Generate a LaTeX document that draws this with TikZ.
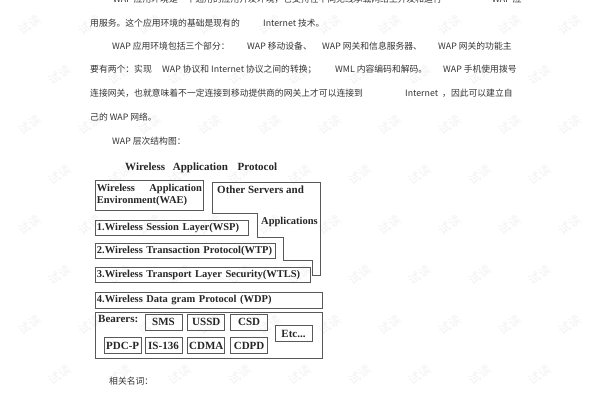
\documentclass[tikz,border=0pt]{standalone}
\usepackage{fontspec}
\setmainfont{Liberation Serif}
\newfontfamily\cjk{Noto Sans CJK SC}
\usetikzlibrary{positioning}

\begin{document}
\begin{tikzpicture}[
    x=1pt, y=-1pt,
    para/.style = {anchor=west, inner sep=0pt, text=black!80,
                   font=\cjk\fontsize{8.8}{10}\selectfont},
    wmark/.style = {rotate=35, text=black!5, font=\cjk\fontsize{12}{12}\selectfont},
    layer/.style = {draw=black!65, line width=0.8pt, anchor=north west, inner xsep=1.5pt,
                    inner ysep=0pt, minimum height=15pt, text width=#1, align=left,
                    text=black!85, font=\bfseries\fontsize{10.5}{12}\selectfont},
    bearer/.style = {draw=black!65, line width=0.8pt, minimum width=37pt, minimum height=16pt,
                     inner sep=0pt, text=black!85, font=\bfseries\fontsize{11}{12}\selectfont},
    plain/.style = {inner sep=0pt, text=black!85, font=\bfseries\fontsize{11}{12}\selectfont}
  ]
  \useasboundingbox (0,0) rectangle (600,400);

  % watermark
  \foreach \y in {75,175,275,375}
    \foreach \x in {60,120,...,540}
      \node[wmark] (wa-\x-\y) at (\x,\y) {试读};
  \foreach \y in {25,125,225,325}
    \foreach \x in {30,90,...,570}
      \node[wmark] (wb-\x-\y) at (\x,\y) {试读};

  % text above the picture
  \node[para] (l0a) at (113,-1) {WAP 应用环境是一个通用的应用开发环境，它支持在不同无线承载网络上开发和运行};
  \node[para] (l0b) at (492,-1) {WAP 应};
  \node[para] (l1a) at (90,23) {用服务。这个应用环境的基础是现有的};
  \node[para] (l1b) at (263,23) {Internet 技术。};
  \node[para] (l2a) at (112,46) {WAP 应用环境包括三个部分：};
  \node[para] (l2b) at (247,46) {WAP 移动设备、};
  \node[para] (l2c) at (322,46) {WAP 网关和信息服务器、};
  \node[para] (l2d) at (438,46) {WAP 网关的功能主};
  \node[para] (l3a) at (90,69) {要有两个：实现};
  \node[para] (l3b) at (162,69) {WAP 协议和 Internet 协议之间的转换；};
  \node[para] (l3c) at (335,69) {WML 内容编码和解码。};
  \node[para] (l3d) at (443,69) {WAP 手机使用拨号};
  \node[para] (l4a) at (90,93) {连接网关，也就意味着不一定连接到移动提供商的网关上才可以连接到};
  \node[para] (l4b) at (405,93) {Internet};
  \node[para] (l4c) at (442,93) {，因此可以建立自};
  \node[para] (l5) at (90,117) {己的 WAP 网络。};
  \node[para] (l6) at (112,141) {WAP 层次结构图：};

  % title
  \node[plain, anchor=west] (title) at (125,168) {Wireless\hspace{5pt} Application\hspace{7pt} Protocol};

  % upper boxes
  \node[layer=105pt, minimum height=30pt] (wae) at (95,180)
    {Wireless\hfill Application\\Environment(WAE)};
  \draw[draw=black!65, line width=0.8pt] (212,182) -- (320,182) -- (320,275) -- (312,275)
    -- (312,260) -- (283,260) -- (283,237) -- (257,237) -- (257,213) -- (212,213) -- cycle;
  \node[plain, anchor=west] (other) at (217,190) {Other Servers and};
  \node[plain, anchor=west] (apps) at (261,222) {\fontsize{10.5}{12}\selectfont Applications};

  % layers
  \node[layer=150pt] (wsp) at (95,220) {1.Wireless Session Layer(WSP)};
  \node[layer=177pt] (wtp) at (95,243) {2.Wireless Transaction Protocol(WTP)};
  \node[layer=212pt] (wtls) at (95,267) {3.Wireless Transport Layer Security(WTLS)};
  \node[layer=224pt, minimum height=16pt] (wdp) at (95,292) {4.Wireless Data gram Protocol (WDP)};

  % bearers
  \node[layer=224pt, minimum height=46pt] (bearers) at (95,312) {};
  \node[plain, anchor=north west] (bearerstext) at (98,315) {Bearers:};
  \node[bearer] (sms) at (163.5,322) {SMS};
  \node[bearer, right=5pt of sms] (ussd) {USSD};
  \node[bearer, right=5pt of ussd] (csd) {CSD};
  \node[bearer, below=7pt of sms] (is136) {IS-136};
  \node[bearer, left=3pt of is136] (pdcp) {PDC-P};
  \node[bearer, right=5pt of is136] (cdma) {CDMA};
  \node[bearer, right=5pt of cdma] (cdpd) {CDPD};
  \node[bearer] (etc) at (293.5,333.5) {Etc...};

  \node[para] (terms) at (109,381) {相关名词：};

\end{tikzpicture}
\end{document}
